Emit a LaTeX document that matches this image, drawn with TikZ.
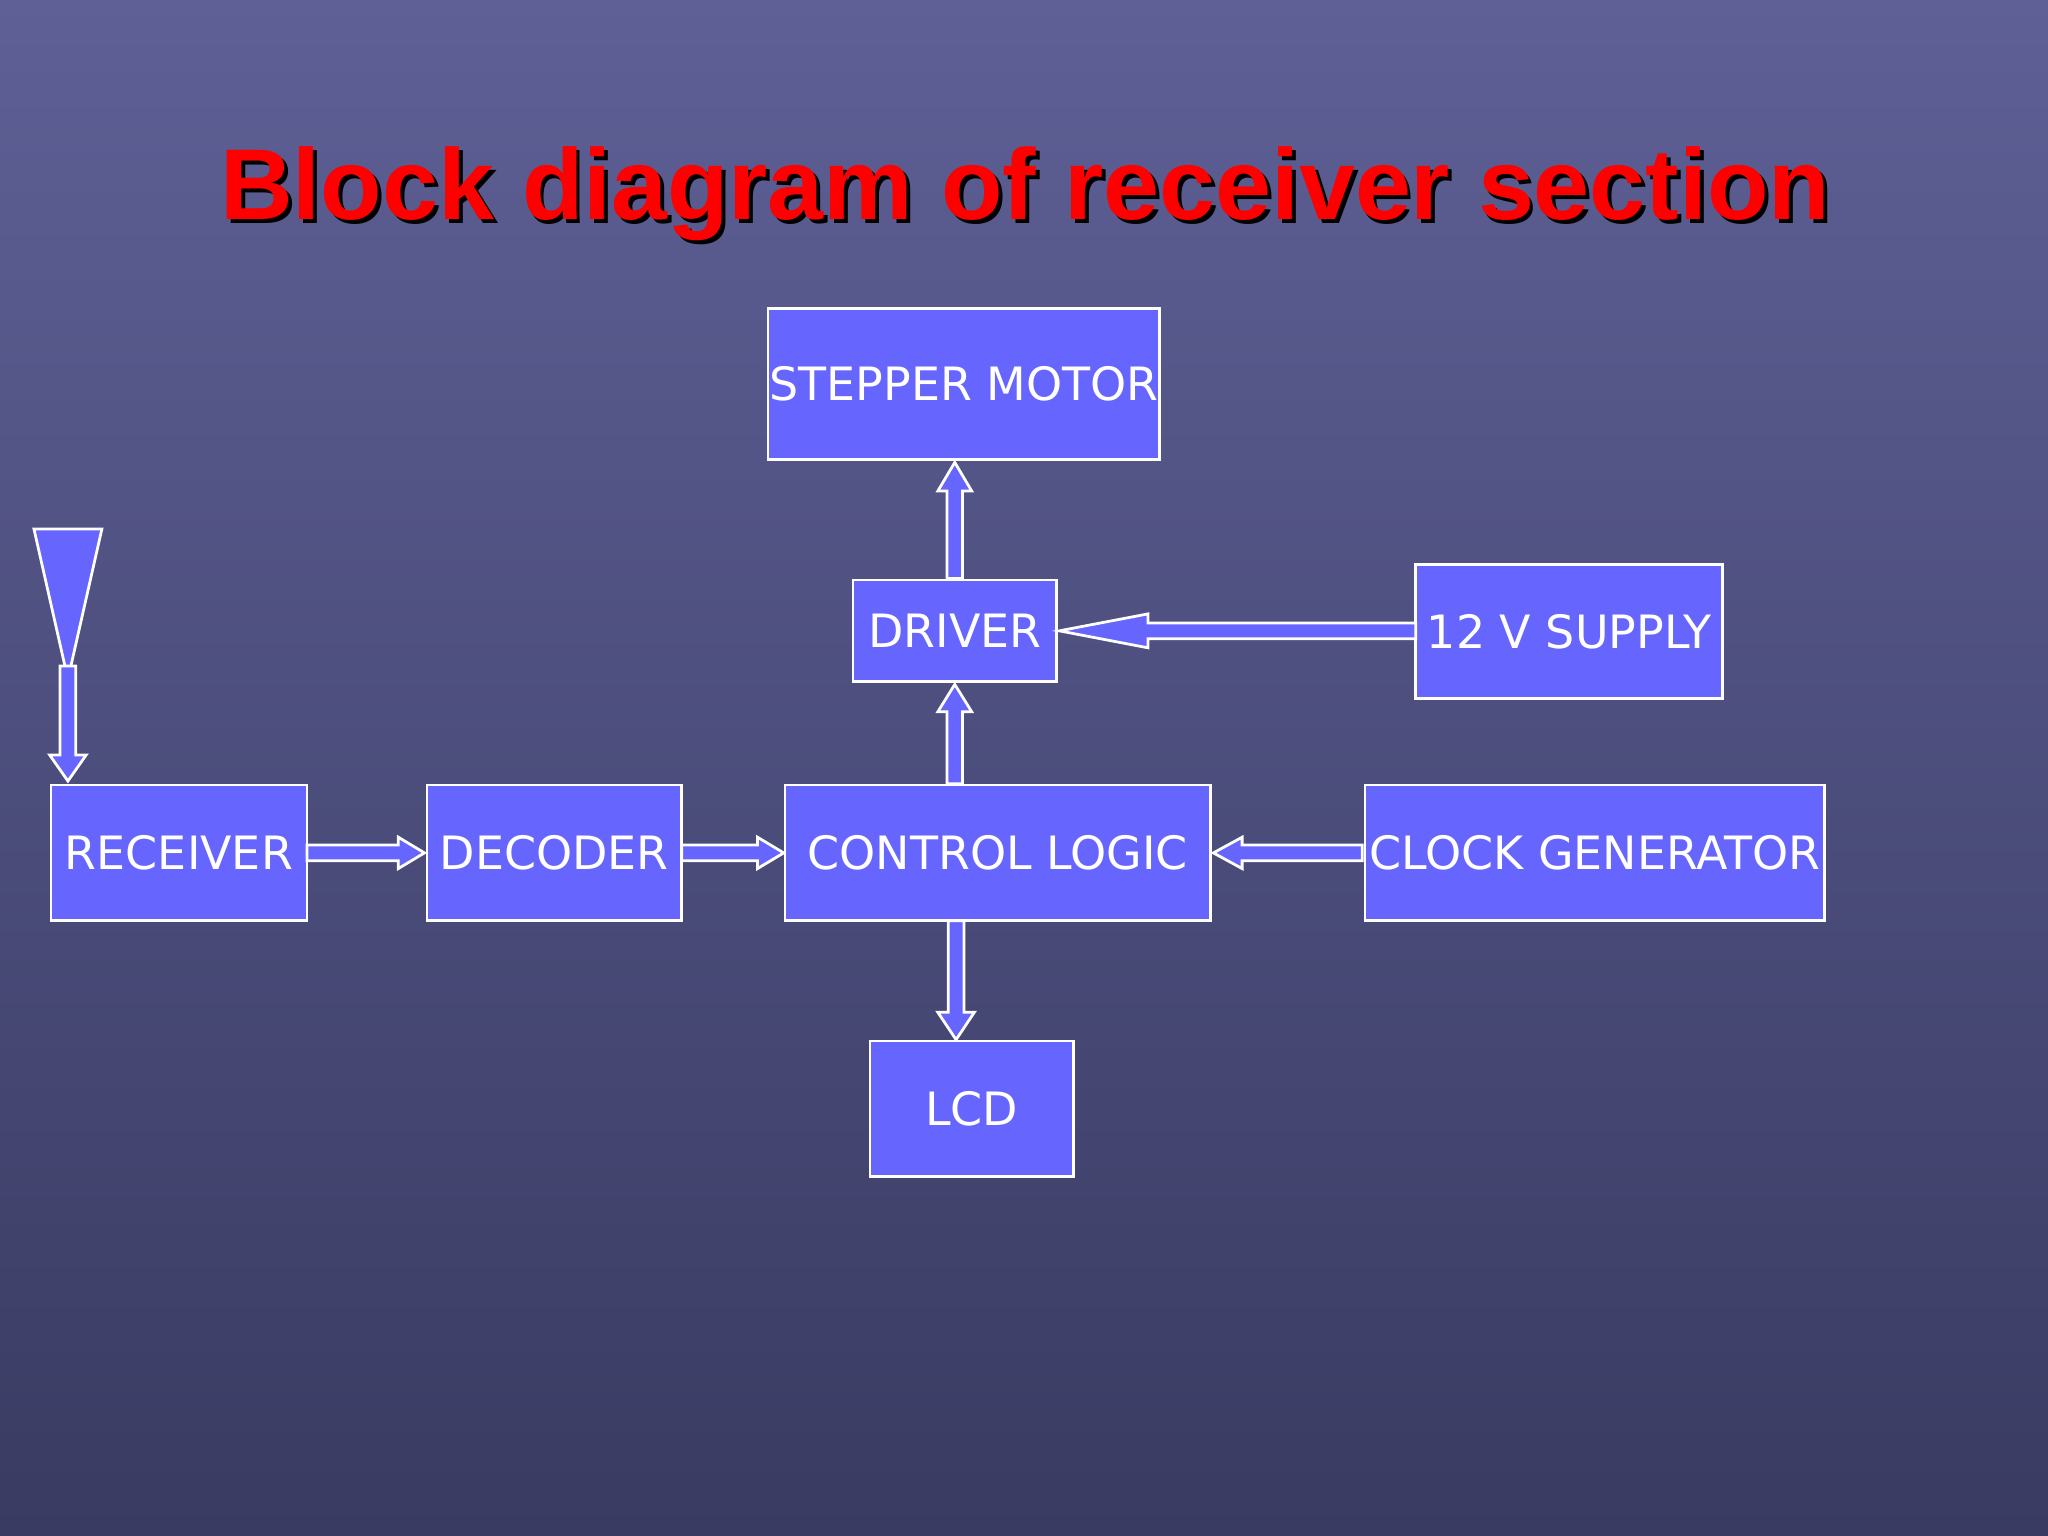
\documentclass[tikz,border=0pt]{standalone}
\usepackage{fontspec}
\setmainfont{DejaVu Sans}
\newfontfamily\titlefont{Liberation Sans}[BoldFont={Liberation Sans Bold}]
\begin{document}
\begin{tikzpicture}[x=0.01cm,y=-0.01cm,
  blk/.style={draw=white,line width=0.6pt,fill=boxc,text=white,inner sep=0pt,font=\fontsize{10}{12}\selectfont},
  barrow/.style={draw=white,line width=0.6pt,fill=boxc},
  ttl/.style={font=\titlefont\bfseries\fontsize{21.9}{26}\selectfont}]
\definecolor{boxc}{HTML}{6666FF}
\definecolor{bgA}{HTML}{5E6096}
\definecolor{bgB}{HTML}{3A3B62}
\useasboundingbox (0,0) rectangle (1568,1176);
\shade[top color=bgA,bottom color=bgB] (0,0) rectangle (1568,1176);
% title
\node[ttl,text=black] at (788,151) {Block diagram of receiver section};
\node[ttl,text=red] (title) at (785,148) {Block diagram of receiver section};
% boxes
\newcommand\blk[6]{\node[blk,minimum width={(#4-#2)*0.01cm},minimum height={(#5-#3)*0.01cm}] (#1) at ({(#2+#4)/2},{(#3+#5)/2}) {#6};}
\blk{step}{588}{236}{888}{352}{STEPPER MOTOR}
\blk{drv}{653}{444}{809}{522}{DRIVER}
\blk{sup}{1084}{432}{1319}{535}{12 V SUPPLY}
\blk{rec}{39}{601}{235}{705}{RECEIVER}
\blk{dec}{327}{601}{522}{705}{DECODER}
\blk{ctl}{601}{601}{927}{705}{CONTROL LOGIC}
\blk{clk}{1045}{601}{1397}{705}{CLOCK GENERATOR}
\blk{lcd}{666}{797}{822}{901}{LCD}
% antenna
\draw[barrow] (26,405) -- (78,405) -- (52,520) -- cycle;
% block arrows: x y angle length headlen halfhead
\newcommand\barrow[6]{\draw[barrow,shift={(#1,#2)},rotate=#3] (0,-6) -- ({#4-#5},-6) -- ({#4-#5},-#6) -- (#4,0) -- ({#4-#5},#6) -- ({#4-#5},6) -- (0,6) -- cycle;}
\barrow{52}{510}{-90}{88}{20}{14}
\barrow{235}{653}{0}{90}{20}{12}
\barrow{522}{653}{0}{78}{20}{12}
\barrow{1043}{653}{180}{114}{22}{12}
\barrow{731}{600}{90}{76}{21}{13}
\barrow{731}{443}{90}{89}{22}{13}
\barrow{1084}{483}{180}{273}{68}{13}
\barrow{732}{705}{-90}{91}{21}{14}
\end{tikzpicture}
\end{document}
